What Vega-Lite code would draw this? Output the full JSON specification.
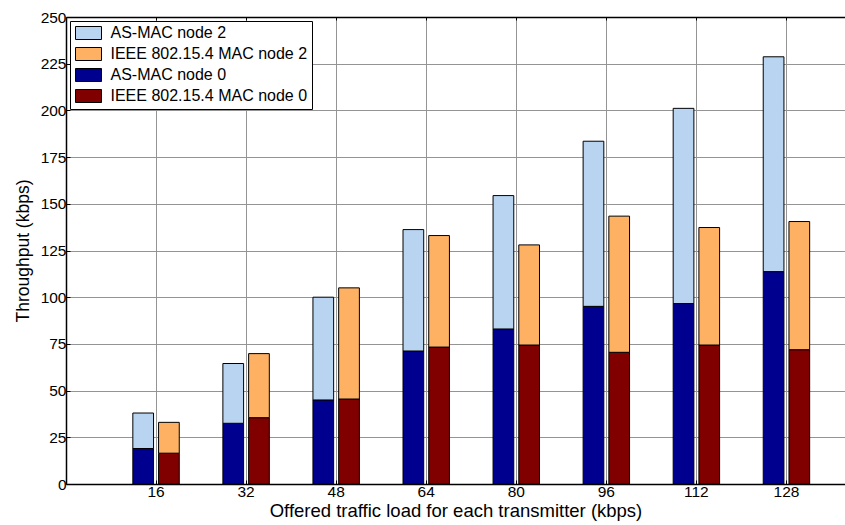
{
  "$schema": "https://vega.github.io/schema/vega-lite/v6.json",
  "width": 779,
  "height": 467,
  "autosize": {"type": "none"},
  "padding": {"left": 66, "top": 17, "right": 0, "bottom": 41},
  "background": "white",
  "config": {
    "view": {"stroke": null},
    "font": "Liberation Sans",
    "axis": {
      "domainColor": "black",
      "domainWidth": 1.5,
      "tickColor": "black",
      "tickWidth": 1,
      "labelColor": "black",
      "titleColor": "black",
      "labelFont": "Liberation Sans",
      "titleFont": "Liberation Sans",
      "titleFontWeight": "normal",
      "labelFontSize": 15.5,
      "gridColor": "#949494",
      "gridWidth": 1
    },
    "legend": {
      "labelFont": "Liberation Sans",
      "labelFontSize": 16,
      "labelColor": "black",
      "labelLimit": 0
    }
  },
  "data": {
    "values": [
      {"load": 16, "mac": "AS-MAC", "node": 0, "series": "AS-MAC node 0", "throughput": 19},
      {"load": 16, "mac": "AS-MAC", "node": 2, "series": "AS-MAC node 2", "throughput": 19},
      {"load": 16, "mac": "IEEE 802.15.4 MAC", "node": 0, "series": "IEEE 802.15.4 MAC node 0", "throughput": 16.5},
      {"load": 16, "mac": "IEEE 802.15.4 MAC", "node": 2, "series": "IEEE 802.15.4 MAC node 2", "throughput": 16.5},
      {"load": 32, "mac": "AS-MAC", "node": 0, "series": "AS-MAC node 0", "throughput": 32.5},
      {"load": 32, "mac": "AS-MAC", "node": 2, "series": "AS-MAC node 2", "throughput": 32},
      {"load": 32, "mac": "IEEE 802.15.4 MAC", "node": 0, "series": "IEEE 802.15.4 MAC node 0", "throughput": 35.5},
      {"load": 32, "mac": "IEEE 802.15.4 MAC", "node": 2, "series": "IEEE 802.15.4 MAC node 2", "throughput": 34.3},
      {"load": 48, "mac": "AS-MAC", "node": 0, "series": "AS-MAC node 0", "throughput": 45},
      {"load": 48, "mac": "AS-MAC", "node": 2, "series": "AS-MAC node 2", "throughput": 55},
      {"load": 48, "mac": "IEEE 802.15.4 MAC", "node": 0, "series": "IEEE 802.15.4 MAC node 0", "throughput": 45.5},
      {"load": 48, "mac": "IEEE 802.15.4 MAC", "node": 2, "series": "IEEE 802.15.4 MAC node 2", "throughput": 59.5},
      {"load": 64, "mac": "AS-MAC", "node": 0, "series": "AS-MAC node 0", "throughput": 71.2},
      {"load": 64, "mac": "AS-MAC", "node": 2, "series": "AS-MAC node 2", "throughput": 65},
      {"load": 64, "mac": "IEEE 802.15.4 MAC", "node": 0, "series": "IEEE 802.15.4 MAC node 0", "throughput": 73.3},
      {"load": 64, "mac": "IEEE 802.15.4 MAC", "node": 2, "series": "IEEE 802.15.4 MAC node 2", "throughput": 59.7},
      {"load": 80, "mac": "AS-MAC", "node": 0, "series": "AS-MAC node 0", "throughput": 83},
      {"load": 80, "mac": "AS-MAC", "node": 2, "series": "AS-MAC node 2", "throughput": 71.4},
      {"load": 80, "mac": "IEEE 802.15.4 MAC", "node": 0, "series": "IEEE 802.15.4 MAC node 0", "throughput": 74.4},
      {"load": 80, "mac": "IEEE 802.15.4 MAC", "node": 2, "series": "IEEE 802.15.4 MAC node 2", "throughput": 53.6},
      {"load": 96, "mac": "AS-MAC", "node": 0, "series": "AS-MAC node 0", "throughput": 95.1},
      {"load": 96, "mac": "AS-MAC", "node": 2, "series": "AS-MAC node 2", "throughput": 88.4},
      {"load": 96, "mac": "IEEE 802.15.4 MAC", "node": 0, "series": "IEEE 802.15.4 MAC node 0", "throughput": 70.5},
      {"load": 96, "mac": "IEEE 802.15.4 MAC", "node": 2, "series": "IEEE 802.15.4 MAC node 2", "throughput": 72.9},
      {"load": 112, "mac": "AS-MAC", "node": 0, "series": "AS-MAC node 0", "throughput": 96.6},
      {"load": 112, "mac": "AS-MAC", "node": 2, "series": "AS-MAC node 2", "throughput": 104.5},
      {"load": 112, "mac": "IEEE 802.15.4 MAC", "node": 0, "series": "IEEE 802.15.4 MAC node 0", "throughput": 74.4},
      {"load": 112, "mac": "IEEE 802.15.4 MAC", "node": 2, "series": "IEEE 802.15.4 MAC node 2", "throughput": 62.9},
      {"load": 128, "mac": "AS-MAC", "node": 0, "series": "AS-MAC node 0", "throughput": 113.7},
      {"load": 128, "mac": "AS-MAC", "node": 2, "series": "AS-MAC node 2", "throughput": 115},
      {"load": 128, "mac": "IEEE 802.15.4 MAC", "node": 0, "series": "IEEE 802.15.4 MAC node 0", "throughput": 71.9},
      {"load": 128, "mac": "IEEE 802.15.4 MAC", "node": 2, "series": "IEEE 802.15.4 MAC node 2", "throughput": 68.6}
    ]
  },
  "layer": [
    {
      "mark": {"type": "bar", "stroke": "black", "strokeWidth": 1},
      "encoding": {
        "x": {
          "field": "load",
          "type": "ordinal",
          "scale": {"paddingInner": 0, "paddingOuter": 0.325, "align": 0.769},
          "axis": {
            "title": "Offered traffic load for each transmitter (kbps)",
            "titleFontSize": 18.5,
            "titlePadding": 2,
            "labelAngle": 0,
            "labelPadding": 4,
            "tickSize": -4,
            "grid": true
          }
        },
        "xOffset": {
          "field": "mac",
          "type": "nominal",
          "sort": ["AS-MAC", "IEEE 802.15.4 MAC"],
          "scale": {"paddingInner": 0.195, "paddingOuter": 0.848}
        },
        "y": {
          "field": "throughput",
          "type": "quantitative",
          "stack": "zero",
          "scale": {"domain": [0, 250], "nice": false},
          "axis": {
            "title": "Throughput (kbps)",
            "titleFontSize": 17.5,
            "titlePadding": 8,
            "values": [0, 25, 50, 75, 100, 125, 150, 175, 200, 225, 250],
            "labelPadding": 4,
            "tickSize": -4,
            "grid": true
          }
        },
        "color": {
          "field": "series",
          "type": "nominal",
          "scale": {
            "domain": ["AS-MAC node 2", "IEEE 802.15.4 MAC node 2", "AS-MAC node 0", "IEEE 802.15.4 MAC node 0"],
            "range": ["#b9d4f1", "#ffb163", "#00008f", "#800000"]
          },
          "legend": {
            "title": null,
            "orient": "top-left",
            "offset": 4,
            "strokeColor": "black",
            "fillColor": "white",
            "padding": 4,
            "rowPadding": 3,
            "symbolType": "M-2,-1H2V1H-2Z",
            "symbolSize": 169,
            "symbolOffset": 6.5,
            "labelOffset": 14,
            "symbolStrokeColor": "black",
            "symbolStrokeWidth": 1,
            "symbolOpacity": 1
          }
        },
        "order": {"field": "node", "type": "quantitative", "sort": "ascending"}
      }
    },
    {
      "mark": {"type": "bar", "opacity": 0},
      "encoding": {
        "x": {
          "field": "load",
          "type": "ordinal",
          "axis": {"orient": "top", "title": null, "labels": false, "grid": false, "tickSize": -3}
        },
        "y": {"field": "throughput", "type": "quantitative"}
      }
    }
  ],
  "resolve": {"axis": {"x": "independent"}}
}
